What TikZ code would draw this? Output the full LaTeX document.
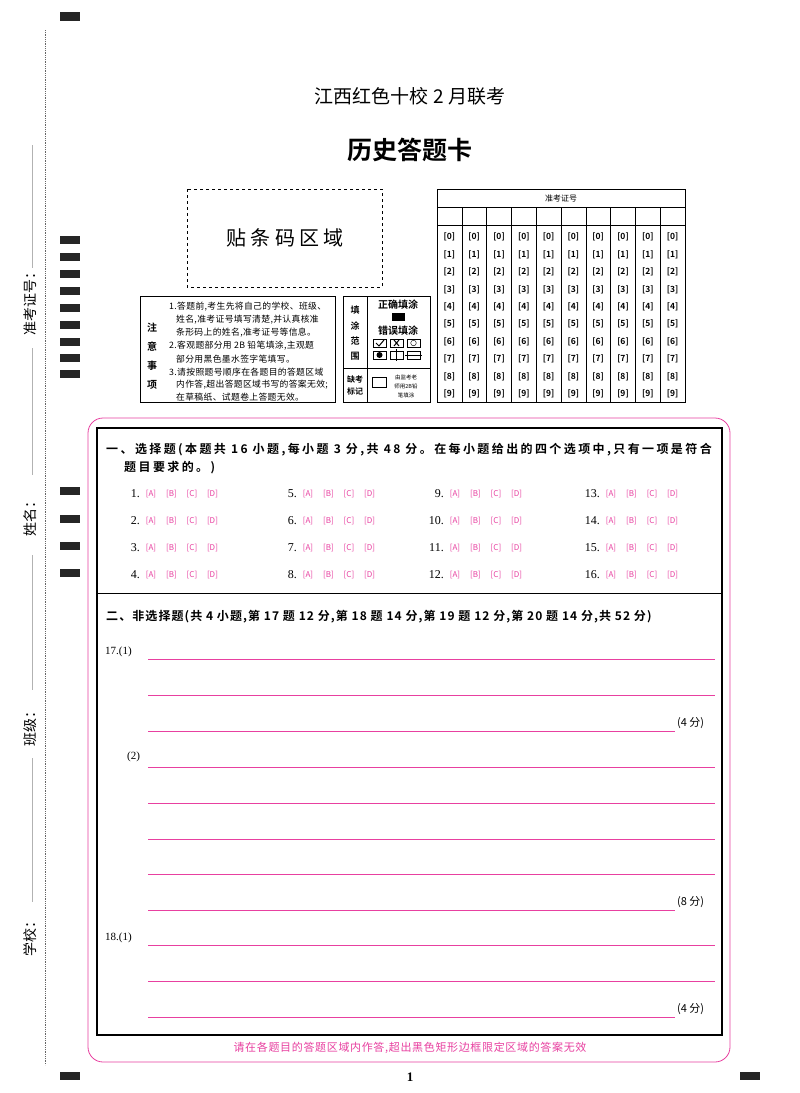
\documentclass[tikz,border=0pt]{standalone}
\usepackage{fontspec}
\setmainfont{Liberation Serif}
\newfontfamily\cjk{Noto Sans CJK SC}
\newfontfamily\cjkb{Noto Sans CJK SC}[BoldFont={* Bold}]
\newfontfamily\cjkhA{Noto Sans CJK SC}[BoldFont={* Bold},LetterSpace=20]
\newfontfamily\cjkhB{Noto Sans CJK SC}[BoldFont={* Bold},LetterSpace=9]
\newfontfamily\cjkf{Noto Sans CJK SC}[LetterSpace=6]
\newfontfamily\cjkn{Noto Sans CJK SC}[LetterSpace=4]
\definecolor{pk}{RGB}{232,64,160}
\begin{document}
\begin{tikzpicture}[x=1pt,y=-1pt,
  blk/.style={fill=black!85,draw=none},
  opt/.style={font=\fontsize{8}{8}\selectfont\cjk, text=pk, inner sep=0},
  num/.style={font=\fontsize{12}{12}\selectfont, anchor=east, inner sep=0},
  dg/.style={font=\fontsize{8.5}{8}\selectfont\cjkb\bfseries, inner sep=0},
  ln/.style={draw=pk,line width=0.6pt},
  note/.style={font=\fontsize{8.8}{10}\selectfont\cjkn, anchor=west, inner sep=0}]
\useasboundingbox (0,0) rectangle (800,1093);
\fill[white] (0,0) rectangle (800,1093);
% marks
\fill[blk] (60,12) rectangle (80,21);
\foreach \y in {236,253,270,287,304,321,338,354,370} \fill[blk] (60,\y) rectangle (80,\y+8);
\foreach \y in {487,515,542,569} \fill[blk] (60,\y) rectangle (80,\y+8);
\fill[blk] (60,1072) rectangle (80,1080);
\fill[blk] (740,1072) rectangle (760,1080);
\draw[densely dotted,black!60,line width=0.8pt] (45,30) -- (45,1065);
% left labels
\foreach \t/\y in {准考证号：/300,姓名：/515,班级：/725,学校：/935}
  \node[rotate=90,font=\fontsize{14}{14}\selectfont\cjk,inner sep=0] (l\y) at (30,\y) {\t};
\foreach \a/\b in {145/268,348/475,555/690,758/902} \draw[black!30,line width=0.8pt] (32,\a) -- (32,\b);
% titles
\node[font=\fontsize{19}{19}\selectfont\cjk] (t1) at (410,96) {江西红色十校 2 月联考};
\node[font=\fontsize{25}{25}\selectfont\cjkb\bfseries] (t2) at (410,150) {历史答题卡};
% barcode
\draw[dashed,line width=0.7pt] (187,189) rectangle (382,287);
\node[font=\fontsize{20}{20}\selectfont\cjk] (bc) at (285,238) {贴 条 码 区 域};
% id grid
\draw[line width=0.6pt] (437,189) rectangle (685,402);
\draw[line width=0.5pt] (437,207) -- (685,207) (437,225) -- (685,225);
\node[font=\fontsize{8}{8}\selectfont\cjk,inner sep=0] (zk) at (561,198) {准考证号};
\foreach \i in {1,...,9} \draw[line width=0.5pt] (437+\i*24.8,207) -- (437+\i*24.8,402);
\foreach \d/\y in {0/237,1/255,2/272,3/290,4/307,5/324,6/342,7/359,8/377,9/394}
  \foreach \i in {0,...,9} \node[dg] at (449.4+\i*24.8,\y) {[\d]};
% notice box
\draw[line width=0.6pt] (140,296) rectangle (335,402);
\foreach \t/\y in {注/328,意/347,事/366,项/385} \node[font=\fontsize{10}{10}\selectfont\cjkb\bfseries,inner sep=0] at (152,\y) {\t};
\node[note] at (169,307) {1.答题前,考生先将自己的学校、班级、};
\node[note] at (176,320) {姓名,准考证号填写清楚,并认真核准};
\node[note] at (176,333) {条形码上的姓名,准考证号等信息。};
\node[note] at (169,346) {2.客观题部分用 2B 铅笔填涂,主观题};
\node[note] at (176,359) {部分用黑色墨水签字笔填写。};
\node[note] at (169,372) {3.请按照题号顺序在各题目的答题区域};
\node[note] at (176,385) {内作答,超出答题区域书写的答案无效;};
\node[note] at (176,397) {在草稿纸、试题卷上答题无效。};
% fill box
\draw[line width=0.6pt] (343,296) rectangle (430,402);
\draw[line width=0.6pt] (367,296) -- (367,402) (343,368) -- (430,368);
\foreach \t/\y in {填/310,涂/326,范/341,围/356} \node[font=\fontsize{9}{9}\selectfont\cjkb\bfseries,inner sep=0] at (355,\y) {\t};
\node[font=\fontsize{8}{8}\selectfont\cjkb\bfseries,inner sep=0] at (355,379) {缺考};
\node[font=\fontsize{8}{8}\selectfont\cjkb\bfseries,inner sep=0] at (355,391) {标记};
\node[font=\fontsize{10}{10}\selectfont\cjkb\bfseries,inner sep=0] at (398,305) {正确填涂};
\fill (392,313) rectangle (405,321);
\node[font=\fontsize{10}{10}\selectfont\cjkb\bfseries,inner sep=0] at (398,331) {错误填涂};
\draw (373,339) rectangle (386,347) (390,339) rectangle (403,347) (407,339) rectangle (420,347);
\draw[line width=1pt] (376,343) -- (379,346) -- (384,340);
\draw[line width=1pt] (394,340) -- (399,346) (399,340) -- (394,346);
\draw (413.5,343) circle (2.8);
\draw (373,351) rectangle (386,359) (390,351) rectangle (403,359) (407,351) rectangle (420,359);
\fill (379.5,355) circle (3);
\draw (396.5,349) -- (396.5,361);
\draw (405,355) -- (422,355);
\draw (372,377) rectangle (386,387);
\foreach \t/\y in {由监考老/377,师用2B铅/386,笔填涂/395} \node[font=\fontsize{5.5}{6}\selectfont\cjk,inner sep=0] at (406,\y) {\t};
% main boxes
\draw[pk,line width=0.8pt,rounded corners=15] (88,418) rectangle (730,1062);
\draw[line width=1.2pt] (97,428) rectangle (722,1035);
\draw[line width=0.7pt] (97,593) -- (722,593);
\node[font=\fontsize{12}{12}\selectfont\cjkhA\bfseries,anchor=west,inner sep=0] (s1) at (106,450) {一、选择题(本题共 16 小题,每小题 3 分,共 48 分。在每小题给出的四个选项中,只有一项是符合};
\node[font=\fontsize{12}{12}\selectfont\cjkhA\bfseries,anchor=west,inner sep=0] (s1b) at (124,468) {题目要求的。)};
\foreach \r/\y in {0/494,1/521,2/548,3/575}
  \foreach \c/\x in {0/140,1/297,2/444,3/600} {
    \pgfmathtruncatemacro\n{\c*4+\r+1}
    \node[num] at (\x,\y) {\n.};
    \foreach \L [count=\k] in {A,B,C,D} \node[opt] at ({\x+11+(\k-1)*20.5},\y) {[\L]};
  }
\node[font=\fontsize{12}{12}\selectfont\cjkhB\bfseries,anchor=west,inner sep=0] (s2) at (106,617) {二、非选择题(共 4 小题,第 17 题 12 分,第 18 题 14 分,第 19 题 12 分,第 20 题 14 分,共 52 分)};
\node[font=\fontsize{11}{11}\selectfont,anchor=west,inner sep=0] at (105,652) {17.(1)};
\node[font=\fontsize{11}{11}\selectfont,anchor=west,inner sep=0] at (127,757) {(2)};
\node[font=\fontsize{11}{11}\selectfont,anchor=west,inner sep=0] at (105,938) {18.(1)};
\foreach \y in {659,695,767,803,839,874,945,981} \draw[ln] (148,\y) -- (715,\y);
\foreach \y in {731,910,1017} \draw[ln] (148,\y) -- (675,\y);
\node[font=\fontsize{11}{11}\selectfont\cjk,anchor=west,inner sep=0] at (677,723) {(4 分)};
\node[font=\fontsize{11}{11}\selectfont\cjk,anchor=west,inner sep=0] at (677,902) {(8 分)};
\node[font=\fontsize{11}{11}\selectfont\cjk,anchor=west,inner sep=0] at (677,1009) {(4 分)};
\node[font=\fontsize{11}{11}\selectfont\cjkf,text=pk,inner sep=0] (ft) at (410,1048) {请在各题目的答题区域内作答,超出黑色矩形边框限定区域的答案无效};
\node[font=\fontsize{13}{13}\selectfont\bfseries,inner sep=0] (pg) at (410,1077) {1};
\end{tikzpicture}
\end{document}
